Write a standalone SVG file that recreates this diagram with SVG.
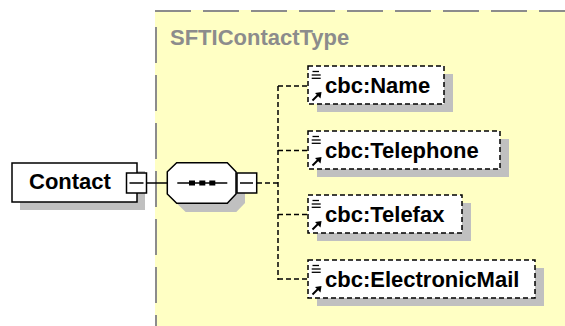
<svg xmlns="http://www.w3.org/2000/svg" width="565" height="326" viewBox="0 0 565 326">
<style>
  .lbl{font-family:"Liberation Sans",Arial,sans-serif;font-weight:bold;font-size:22px;fill:#000}
  .title{font-family:"Liberation Sans",Arial,sans-serif;font-weight:bold;font-size:22px;fill:#8c8c8c}
  .shadow{fill:#c0c0c0;stroke:none}
  .solid{fill:#fff;stroke:#000;stroke-width:1.5}
  .elem{fill:#fff;stroke:#000;stroke-width:1.5;stroke-dasharray:5 3}
  .conn{fill:none;stroke:#000;stroke-width:1.5}
  .dconn{fill:none;stroke:#000;stroke-width:1.5;stroke-dasharray:5 3}
  .border{stroke:#8c8c8c;stroke-width:2;stroke-dasharray:36 12;fill:none}
  .ic{stroke:#000;stroke-width:1.3;fill:none}
</style>
<defs>
  <g id="icons">
    <line class="ic" x1="4.5" y1="5.5" x2="11" y2="5.5"/>
    <line class="ic" x1="3.7" y1="9" x2="12.7" y2="9"/>
    <line class="ic" x1="3.7" y1="12.3" x2="12.7" y2="12.3"/>
    <line x1="4.5" y1="34.5" x2="10" y2="29" stroke="#000" stroke-width="2"/>
    <polygon points="13.5,26 12.5,32.5 7,27" fill="#000"/>
  </g>
</defs>

<g id="SFTIContactType">
  <rect x="155" y="10" width="410" height="316" fill="#ffffc4"/>
  <line class="border" x1="155" y1="11" x2="565" y2="11"/>
  <line class="border" x1="156" y1="27" x2="156" y2="326"/>
  <text class="title" x="170" y="45">SFTIContactType</text>
</g>

<g id="connectors">
  <line class="conn" x1="146.5" y1="183" x2="167.3" y2="183"/>
  <line class="dconn" x1="257" y1="183" x2="278" y2="183"/>
  <line class="dconn" x1="278" y1="86" x2="278" y2="280"/>
  <line class="dconn" x1="278" y1="86" x2="308" y2="86"/>
  <line class="dconn" x1="278" y1="150.5" x2="308" y2="150.5"/>
  <line class="dconn" x1="278" y1="214.5" x2="308" y2="214.5"/>
  <line class="dconn" x1="278" y1="279" x2="308" y2="279"/>
</g>

<g id="Contact">
  <rect class="shadow" x="20" y="171" width="125" height="39"/>
  <rect class="solid" x="12" y="163" width="125" height="39"/>
  <text class="lbl" x="29" y="189">Contact</text>
  <rect class="solid" x="126.5" y="173" width="20" height="20"/>
  <line class="conn" x1="129.5" y1="183" x2="143.5" y2="183"/>
</g>

<g id="sequence">
  <polygon class="shadow" points="185.7,171.7 236.3,171.7 245,180.7 245,203 236.3,212 185.7,212 176.3,203 176.3,180.7"/>
  <polygon class="solid" points="176.7,162.7 227.3,162.7 236,171.7 236,194 227.3,203.3 176.7,203.3 167.3,194 167.3,171.7"/>
  <line class="conn" x1="177.3" y1="183" x2="227.3" y2="183"/>
  <rect x="189" y="180.5" width="6" height="5" fill="#000"/>
  <rect x="199.3" y="180.5" width="6" height="5" fill="#000"/>
  <rect x="209.3" y="180.5" width="6" height="5" fill="#000"/>
  <rect class="solid" x="237" y="173" width="19.7" height="20"/>
  <line class="conn" x1="240" y1="183" x2="253" y2="183"/>
</g>

<g id="cbcName">
  <rect class="shadow" x="317" y="74" width="136" height="38"/>
  <rect class="elem" x="308" y="66" width="136" height="38"/>
  <use href="#icons" x="308" y="66"/>
  <text class="lbl" x="325" y="93">cbc:Name</text>
</g>

<g id="cbcTelephone">
  <rect class="shadow" x="317" y="139" width="192" height="38"/>
  <rect class="elem" x="308" y="131" width="192" height="38"/>
  <use href="#icons" x="308" y="131"/>
  <text class="lbl" x="325" y="158">cbc:Telephone</text>
</g>

<g id="cbcTelefax">
  <rect class="shadow" x="317" y="203" width="154" height="38"/>
  <rect class="elem" x="308" y="195" width="154" height="38"/>
  <use href="#icons" x="308" y="195"/>
  <text class="lbl" x="325" y="222">cbc:Telefax</text>
</g>

<g id="cbcElectronicMail">
  <rect class="shadow" x="317" y="268" width="227" height="38"/>
  <rect class="elem" x="308" y="260" width="227" height="38"/>
  <use href="#icons" x="308" y="260"/>
  <text class="lbl" x="325" y="287">cbc:ElectronicMail</text>
</g>
</svg>
